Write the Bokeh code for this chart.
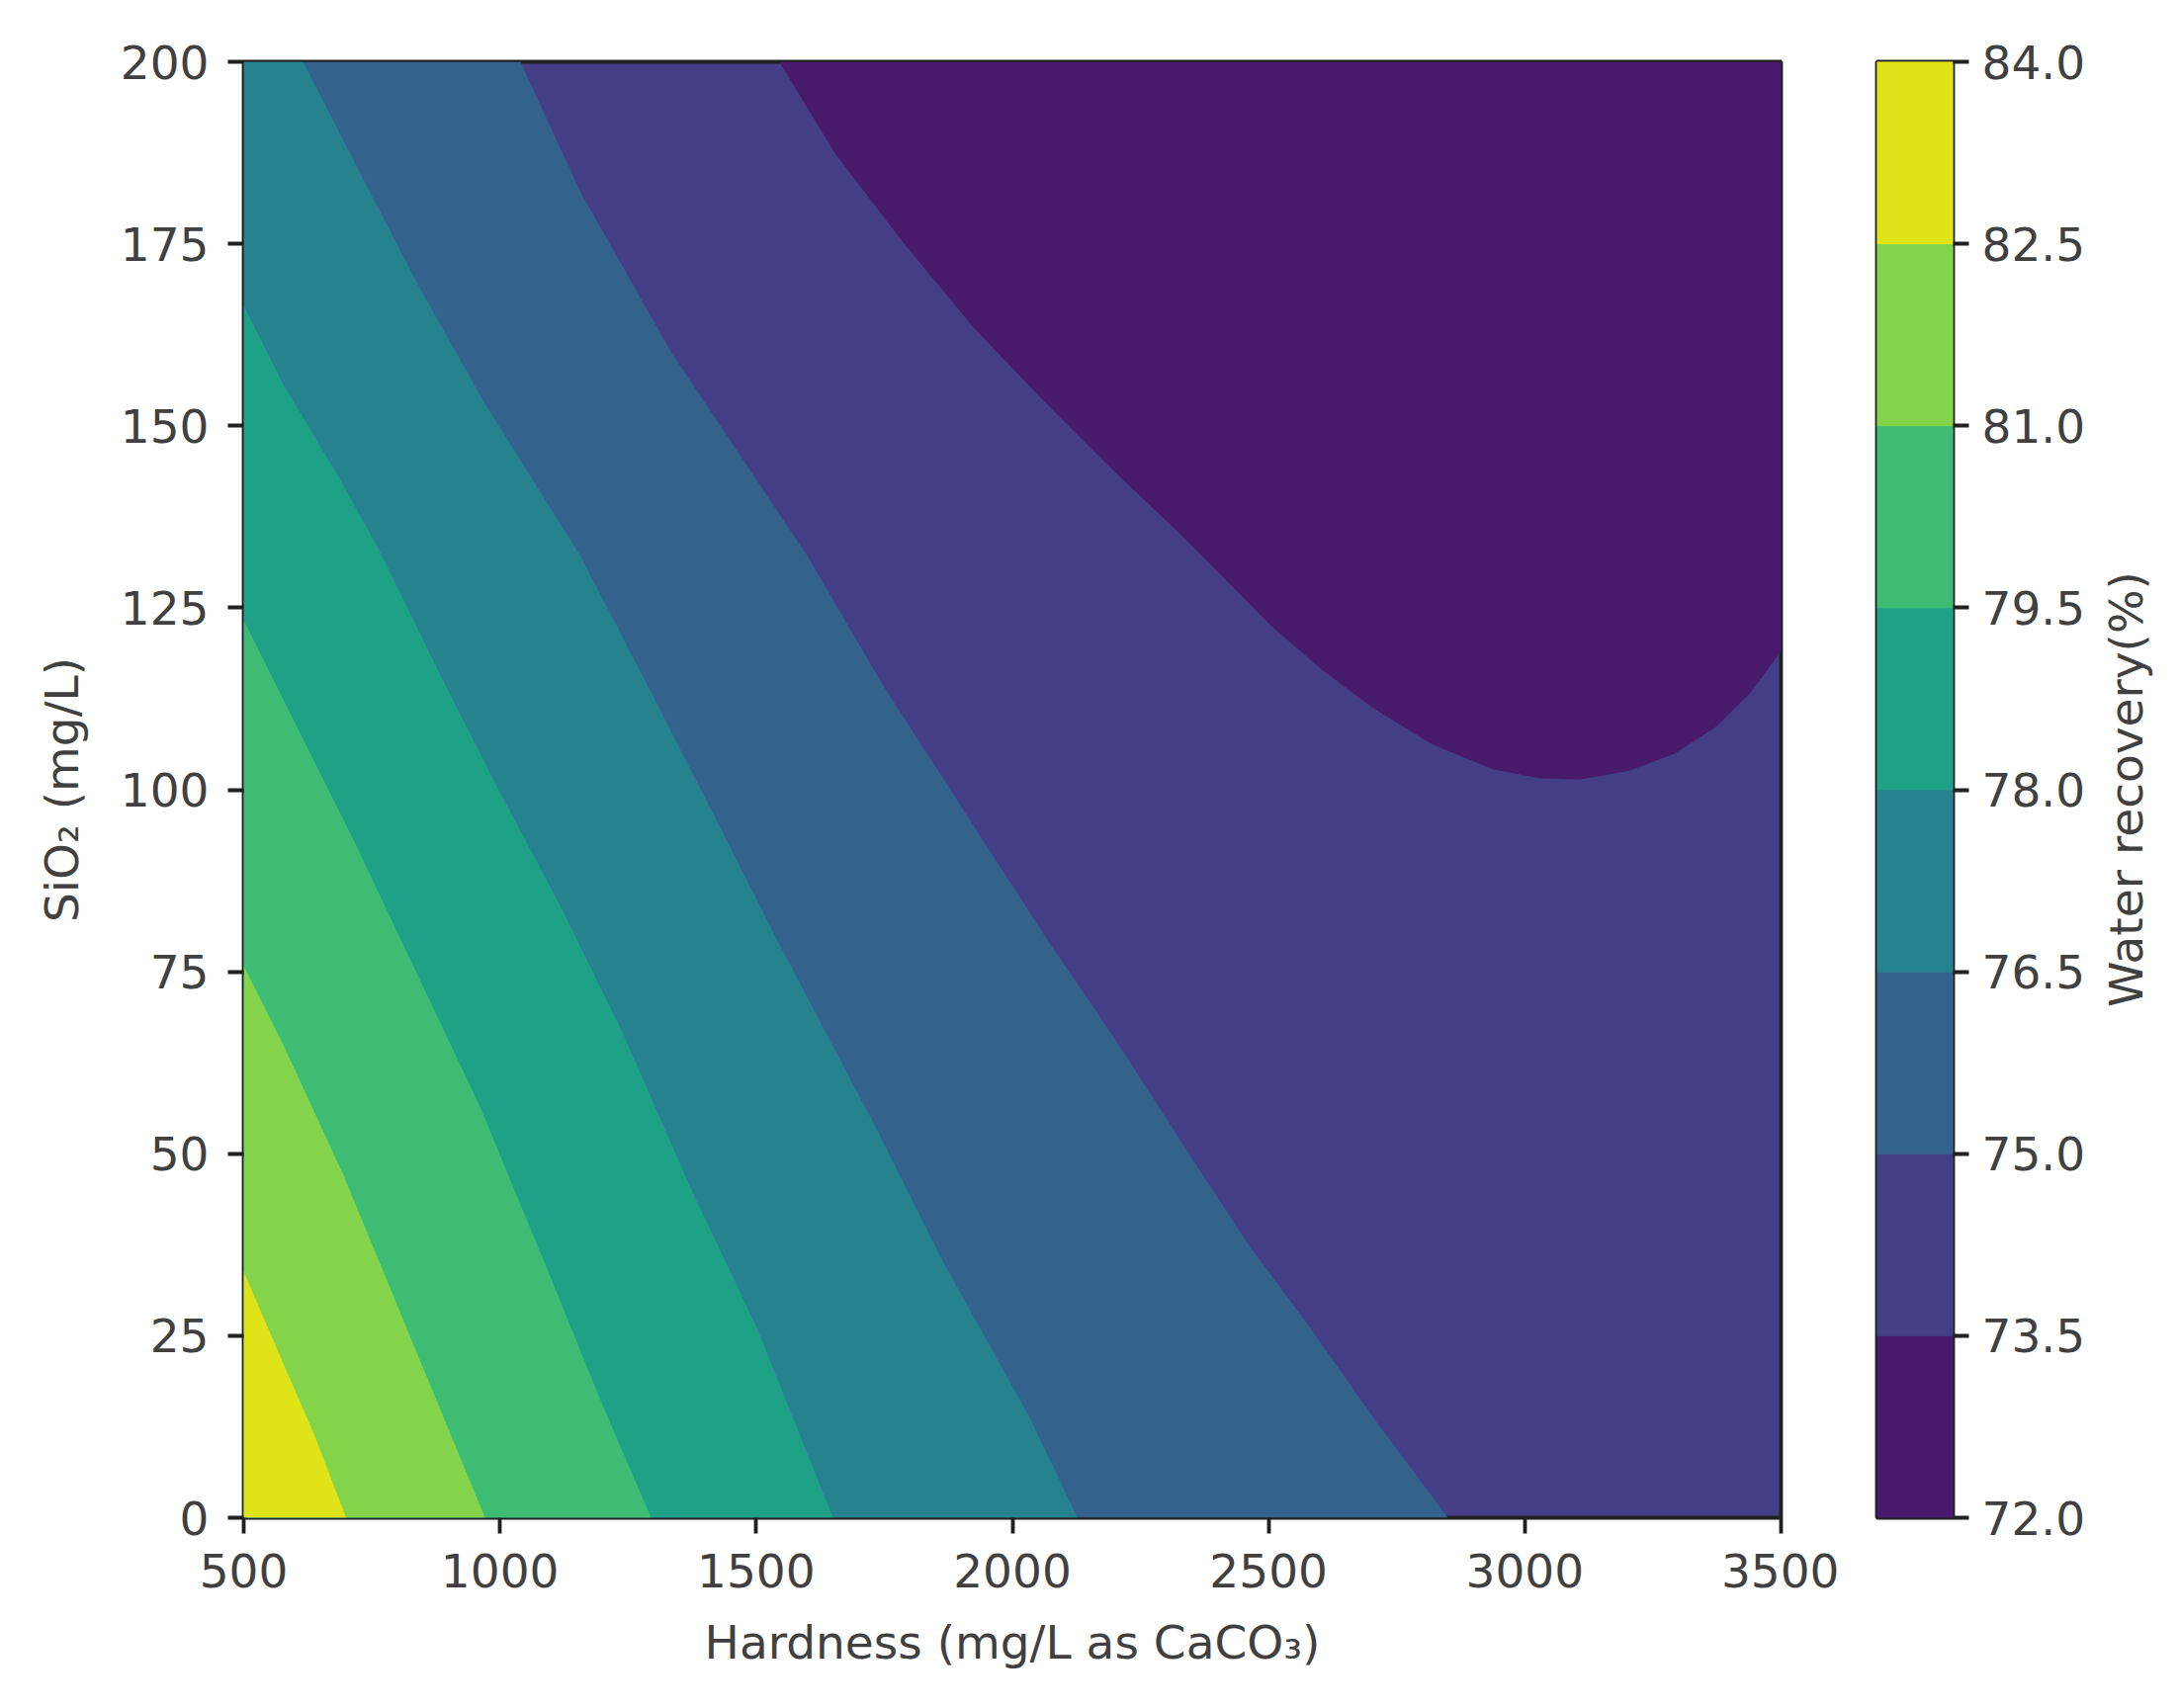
import math
from bokeh.plotting import figure
from bokeh.layouts import row
from bokeh.models import Range1d, FixedTicker, NumeralTickFormatter, Label
from bokeh.embed import file_html
from bokeh.resources import INLINE

# Contour levels and band colours (water recovery, %)
levels = [72.0, 73.5, 75.0, 76.5, 78.0, 79.5, 81.0, 82.5, 84.0]
band_colors = ["#481a6c", "#433e85", "#33638d", "#26828e", "#1fa187", "#3fbc73", "#84d44b", "#dfe318"]

x_ticks = [500, 1000, 1500, 2000, 2500, 3000, 3500]
y_ticks = [0, 25, 50, 75, 100, 125, 150, 175, 200]

# Contour lines: hardness (x) and SiO2 (y)
c735_x = [1545, 1654, 1789, 1924, 2060, 2195, 2331, 2407, 2505, 2604, 2702, 2820, 2939, 3027, 3106, 3204, 3293, 3372, 3441, 3500]
c735_y = [200, 187.4, 175, 163.5, 153.5, 144, 134.9, 129.5, 122.5, 116.5, 111.3, 106.2, 102.8, 101.6, 101.4, 102.6, 105, 108.6, 113.4, 119]

c750_x = [1040, 1158, 1335, 1601, 1748, 1935, 2072, 2200, 2338, 2456, 2584, 2712, 2850]
c750_y = [200, 182, 160, 132, 114.3, 93.9, 79, 65.8, 50.7, 38, 25.8, 13, 0]

c765_x = [616, 725, 843, 971, 1158, 1305, 1414, 1551, 1738, 1866, 2032, 2127]
c765_y = [200, 185, 169, 153, 132, 112, 97, 78, 53, 35, 14, 0]

c780_x = [500, 577, 685, 764, 882, 990, 1118, 1237, 1374, 1502, 1650]
c780_y = [166.5, 155.7, 143, 133, 116, 101, 84, 67, 45, 26, 0]

c795_x = [500, 587, 715, 833, 961, 1099, 1200, 1295]
c795_y = [123.3, 111, 93, 75.5, 56.5, 33, 15.5, 0]

c810_x = [500, 577, 695, 833, 971]
c810_y = [75.8, 65, 47, 23.5, 0]

c825_x = [500, 587, 636, 700]
c825_y = [33.8, 19.6, 11.7, 0]

X0, X1, Y0, Y1 = 500, 3500, 0, 200
TEXT = "#404040"
AX = "#202020"
FS = "47px"
LW = 3.8


def style_axis(ax):
    ax.axis_line_color = None
    ax.major_tick_line_color = AX
    ax.major_tick_line_width = LW
    ax.major_tick_out = 16
    ax.major_tick_in = 0
    ax.minor_tick_line_color = None
    ax.major_label_text_font = "DejaVu Sans"
    ax.major_label_text_font_size = FS
    ax.major_label_text_color = TEXT
    ax.axis_label_text_font = "DejaVu Sans"
    ax.axis_label_text_font_size = FS
    ax.axis_label_text_font_style = "normal"
    ax.axis_label_text_color = TEXT


p = figure(width=1860, height=1708, output_backend="svg", toolbar_location=None,
           x_range=Range1d(X0, X1), y_range=Range1d(Y0, Y1),
           min_border_left=246, min_border_right=59, min_border_top=62, min_border_bottom=173,
           background_fill_color=band_colors[1])
p.grid.visible = False
p.outline_line_color = AX
p.outline_line_width = LW

# Painter's order: each closed region covers everything at or above its level
p.patch(c735_x + [X1], c735_y + [Y1], fill_color=band_colors[0], line_color=None)
p.patch(c750_x + [X0, X0], c750_y + [Y0, Y1], fill_color=band_colors[2], line_color=None)
p.patch(c765_x + [X0, X0], c765_y + [Y0, Y1], fill_color=band_colors[3], line_color=None)
p.patch(c780_x + [X0], c780_y + [Y0], fill_color=band_colors[4], line_color=None)
p.patch(c795_x + [X0], c795_y + [Y0], fill_color=band_colors[5], line_color=None)
p.patch(c810_x + [X0], c810_y + [Y0], fill_color=band_colors[6], line_color=None)
p.patch(c825_x + [X0], c825_y + [Y0], fill_color=band_colors[7], line_color=None)

p.xaxis.ticker = FixedTicker(ticks=x_ticks)
p.yaxis.ticker = FixedTicker(ticks=y_ticks)
p.xaxis.axis_label = "Hardness (mg/L as CaCO₃)"
p.yaxis.axis_label = "SiO₂ (mg/L)"
style_axis(p.xaxis[0])
style_axis(p.yaxis[0])
p.xaxis.major_label_standoff = 20
p.yaxis.major_label_standoff = 19
p.xaxis.axis_label_standoff = 25
p.yaxis.axis_label_standoff = 29

cb = figure(width=260, height=1708, output_backend="svg", toolbar_location=None,
            x_range=Range1d(0, 1), y_range=Range1d(levels[0], levels[-1]),
            y_axis_location="right",
            min_border_left=38, min_border_right=145, min_border_top=62, min_border_bottom=173)
cb.grid.visible = False
cb.xaxis.visible = False
cb.outline_line_color = AX
cb.outline_line_width = LW
cb.quad(left=0, right=1, bottom=levels[:-1], top=levels[1:], fill_color=band_colors, line_color=band_colors, line_width=1)
cb.yaxis.ticker = FixedTicker(ticks=levels)
cb.yaxis.formatter = NumeralTickFormatter(format="0.0")
style_axis(cb.yaxis[0])
cb.yaxis.major_label_standoff = 13

# Narrow panel that holds the colourbar title, reading bottom to top
title_panel = figure(width=70, height=1708, output_backend="svg", toolbar_location=None,
                     x_range=Range1d(0, 1), y_range=Range1d(0, 1),
                     min_border_left=0, min_border_right=0, min_border_top=0, min_border_bottom=0)
title_panel.axis.visible = False
title_panel.grid.visible = False
title_panel.outline_line_color = None
title_panel.add_layout(Label(x=30, y=737, x_units="screen", y_units="screen", text="Water recovery(%)",
                             angle=math.pi / 2, text_align="center", text_baseline="middle",
                             text_font="DejaVu Sans", text_font_size=FS, text_color=TEXT))

layout = row(p, cb, title_panel, spacing=0)
open("out.html", "w").write(file_html(layout, INLINE))
